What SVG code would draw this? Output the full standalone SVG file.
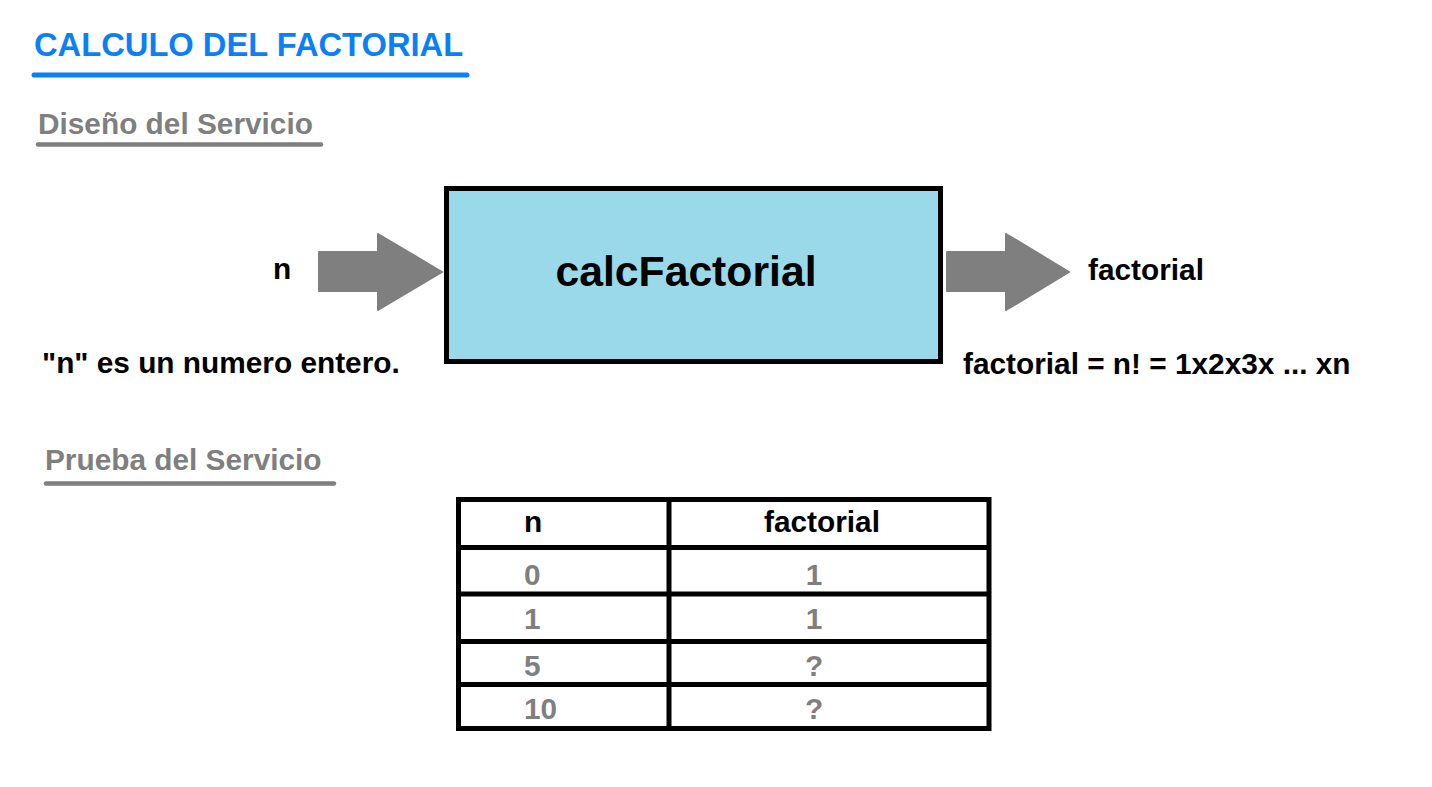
<svg xmlns="http://www.w3.org/2000/svg" width="1432" height="787" viewBox="0 0 1432 787">
<style>
text{font-family:"Liberation Sans",Arial,sans-serif;font-weight:bold}
.b{font-size:29.8px;fill:#000}
.g{font-size:29.8px;fill:#7f7f7f}
.ul{stroke-linecap:round;fill:none}
.arr{fill:#7f7f7f;stroke:#7f7f7f;stroke-width:2;stroke-linejoin:round}
.tl{stroke:#000;stroke-width:5;fill:none}
</style>
<rect width="1432" height="787" fill="#fff"/>
<g id="title">
<text x="34" y="56" font-size="32.7" fill="#0b80f6">CALCULO DEL FACTORIAL</text>
<line class="ul" x1="34" y1="75" x2="467" y2="75" stroke="#0b80f6" stroke-width="5"/>
</g>
<g id="diseno">
<text class="g" x="38" y="134">Diseño del Servicio</text>
<line class="ul" x1="38" y1="144.5" x2="321" y2="144.5" stroke="#7f7f7f" stroke-width="4.5"/>
</g>
<g id="connectors">
<path class="arr" d="M319,252 H378 V234 L442,272 L378,310 V291 H319 Z"/>
<path class="arr" d="M947,252 H1006 V234 L1069,272 L1006,310 V291 H947 Z"/>
</g>
<g id="input">
<text class="b" x="273" y="279">n</text>
<text class="b" x="42" y="373">"n" es un numero entero.</text>
</g>
<g id="calcFactorial">
<rect x="446.5" y="188.5" width="494" height="173" fill="#99d9ea" stroke="#000" stroke-width="5"/>
<text x="686" y="286" font-size="42.7" fill="#000" text-anchor="middle">calcFactorial</text>
</g>
<g id="output">
<text class="b" x="1088" y="280">factorial</text>
<text class="b" x="963" y="374">factorial = n! = 1x2x3x ... xn</text>
</g>
<g id="prueba">
<text class="g" x="45" y="470">Prueba del Servicio</text>
<line class="ul" x1="46" y1="483.5" x2="334" y2="483.5" stroke="#7f7f7f" stroke-width="4.5"/>
</g>
<g id="table">
<rect class="tl" x="458.5" y="499.5" width="530.5" height="229"/>
<line class="tl" x1="669" y1="499.5" x2="669" y2="728.5"/>
<line class="tl" x1="458.5" y1="547.5" x2="989" y2="547.5"/>
<line class="tl" x1="458.5" y1="594" x2="989" y2="594"/>
<line class="tl" x1="458.5" y1="641.5" x2="989" y2="641.5"/>
<line class="tl" x1="458.5" y1="684.5" x2="989" y2="684.5"/>
<text class="b" x="524" y="532">n</text>
<text class="b" x="822" y="532" text-anchor="middle">factorial</text>
<text class="g" x="524" y="585">0</text>
<text class="g" x="524" y="629">1</text>
<text class="g" x="524" y="676">5</text>
<text class="g" x="524" y="719">10</text>
<text class="g" x="814" y="585" text-anchor="middle">1</text>
<text class="g" x="814" y="629" text-anchor="middle">1</text>
<text class="g" x="814" y="676" text-anchor="middle">?</text>
<text class="g" x="814" y="719" text-anchor="middle">?</text>
</g>
</svg>
